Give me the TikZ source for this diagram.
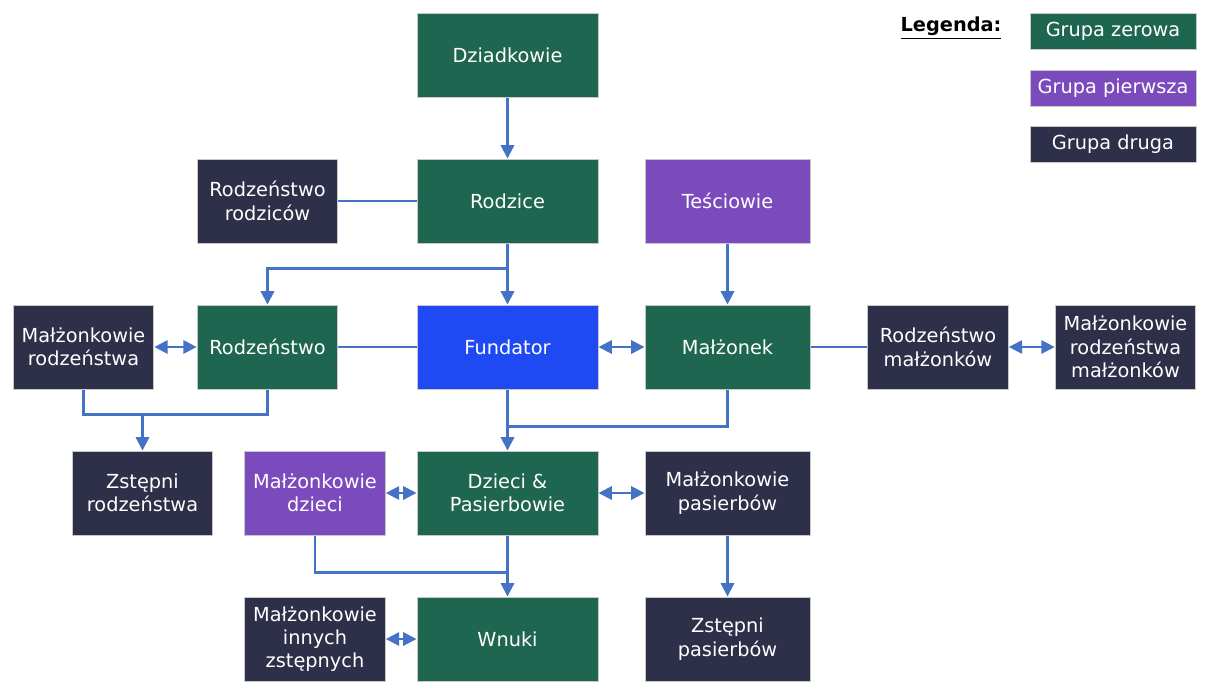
\documentclass[tikz,border=0pt]{standalone}
\usepackage{fontspec}
\setmainfont{DejaVu Sans}
\usetikzlibrary{arrows.meta}
\definecolor{gzero}{HTML}{1E6650}
\definecolor{gfirst}{HTML}{7B4BBE}
\definecolor{gsecond}{HTML}{2E2F48}
\definecolor{gfund}{HTML}{1F49F2}
\definecolor{conn}{HTML}{4472C4}
\definecolor{boxline}{HTML}{C8C8C8}
\begin{document}
\begin{tikzpicture}[x=0.75pt,y=-0.75pt,
  box/.style={draw=boxline, line width=0.75pt, text=white, align=center, inner sep=0pt,
    minimum height=63pt, font=\fontsize{14.5}{17.5}\selectfont},
  wide/.style={box, minimum width=135.75pt},
  mid/.style={box, minimum width=123.75pt},
  narrow/.style={box, minimum width=105.5pt},
  legbox/.style={draw=boxline, line width=0.75pt, text=white, inner sep=0pt,
    minimum width=124.5pt, minimum height=27pt, font=\fontsize{14.5}{17.5}\selectfont},
  link/.style={draw=conn, line width=1.6pt},
  arr/.style={link, -{Triangle[length=10pt,width=10pt]}},
  dbl/.style={link, {Triangle[length=10pt,width=10pt]}-{Triangle[length=10pt,width=10pt]}}]
\useasboundingbox (0,0) rectangle (1216,694);

% row 1
\node[wide, fill=gzero] (dz) at (507.5,55) {Dziadkowie};
% row 2
\node[narrow, fill=gsecond] (rr) at (267.5,201) {Rodzeństwo\\rodziców};
\node[wide, fill=gzero] (rodz) at (507.5,201) {Rodzice};
\node[mid, fill=gfirst] (tes) at (727.5,201) {Teściowie};
% row 3
\node[narrow, fill=gsecond] (mr) at (83.5,347) {Małżonkowie\\rodzeństwa};
\node[narrow, fill=gzero] (rodzen) at (267.5,347) {Rodzeństwo};
\node[wide, fill=gfund] (fund) at (507.5,347) {Fundator};
\node[mid, fill=gzero] (mal) at (727.5,347) {Małżonek};
\node[narrow, fill=gsecond] (rm) at (938,347) {Rodzeństwo\\małżonków};
\node[narrow, fill=gsecond] (mrm) at (1125.5,347) {Małżonkowie\\rodzeństwa\\małżonków};
% row 4
\node[narrow, fill=gsecond] (zr) at (142.5,493) {Zstępni\\rodzeństwa};
\node[narrow, fill=gfirst] (md) at (315,493) {Małżonkowie\\dzieci};
\node[wide, fill=gzero] (dzieci) at (507.5,493) {Dzieci \&\\Pasierbowie};
\node[mid, fill=gsecond] (mp) at (727.5,493) {Małżonkowie\\pasierbów};
% row 5
\node[narrow, fill=gsecond] (miz) at (315,639) {Małżonkowie\\innych\\zstępnych};
\node[wide, fill=gzero] (wn) at (507.5,639) {Wnuki};
\node[mid, fill=gsecond] (zp) at (727.5,639) {Zstępni\\pasierbów};

% legend
\node[font=\fontsize{14.5}{17.5}\selectfont\bfseries] (leg) at (951,28) {\underline{Legenda:}};
\node[legbox, fill=gzero] (l1) at (1113,31) {Grupa zerowa};
\node[legbox, fill=gfirst] (l2) at (1113,88) {Grupa pierwsza};
\node[legbox, fill=gsecond] (l3) at (1113,144.5) {Grupa druga};

% connectors
\draw[arr] (dz) -- (rodz);
\draw[link] (rr) -- (rodz);
\draw[arr] (rodz) -- (fund);
\draw[arr] (rodz.south) ++(0,25) -| (rodzen.north);
\draw[arr] (tes) -- (mal);
\draw[dbl] (mr) -- (rodzen);
\draw[link] (rodzen) -- (fund);
\draw[dbl] (fund) -- (mal);
\draw[link] (mal) -- (rm);
\draw[dbl] (rm) -- (mrm);
\draw[link] (mr.south) -- ++(0,25) -| (rodzen.south);
\draw[arr] (zr.north) ++(0,-37) -- (zr.north);
\draw[arr] (fund) -- (dzieci);
\draw[link] (mal.south) -- ++(0,37) -| (fund.south);
\draw[dbl] (md) -- (dzieci);
\draw[dbl] (dzieci) -- (mp);
\draw[link] (md.south) -- ++(0,37) -| (dzieci.south);
\draw[arr] (dzieci) -- (wn);
\draw[arr] (mp) -- (zp);
\draw[dbl] (miz) -- (wn);
\end{tikzpicture}
\end{document}
